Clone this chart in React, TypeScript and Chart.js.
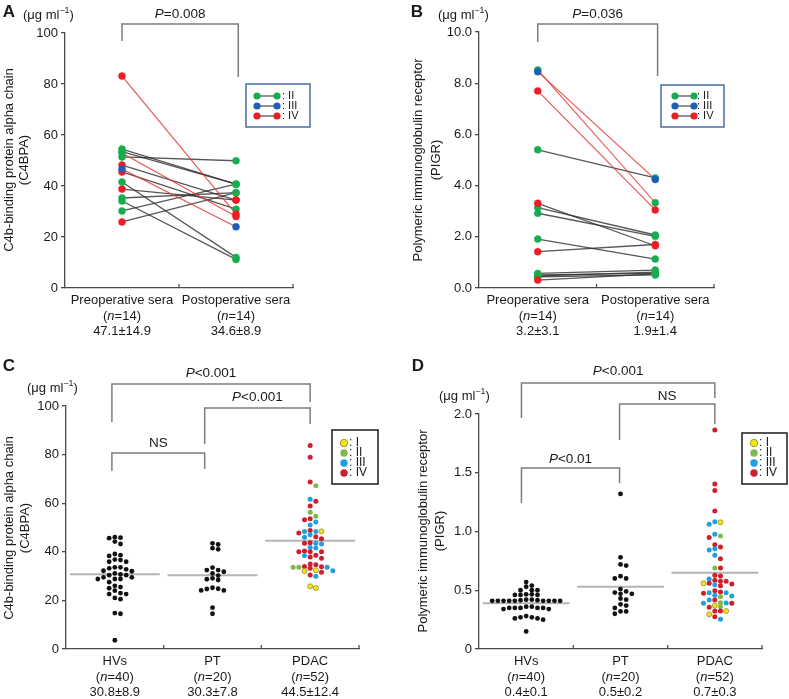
import React, { useEffect, useRef } from 'react';
import { Chart, registerables } from 'chart.js';
Chart.register(...registerables);

const FONT = '"Liberation Sans", Arial, Helvetica, sans-serif';
const TXT = '#1a1a1a';
const AXIS = '#4a4a4a';
const BRACKET = '#7d7d7d';

// ---------- Panel A data (C4BPA, pre/post surgery) ----------
const abCategories = ['Preoperative sera', 'Postoperative sera'];
const abN = [14, 14];
const aSummary = ['47.1±14.9', '34.6±8.9'];
const aPre = [83.1, 54.5, 53.5, 52.9, 51.4, 48.2, 46.7, 45.5, 41.6, 38.8, 35.3, 34.1, 30.2, 25.9];
const aPost = [29.0, 40.7, 40.7, 28.0, 49.9, 34.5, 24.0, 30.9, 12.0, 34.5, 37.4, 11.2, 40.7, 37.4];
const aPreStage = ['IV', 'II', 'II', 'II', 'II', 'IV', 'III', 'IV', 'II', 'IV', 'II', 'II', 'II', 'IV'];
const aPostStage = ['IV', 'II', 'II', 'IV', 'II', 'IV', 'III', 'II', 'II', 'IV', 'II', 'II', 'II', 'II'];
const aHighlight = [1, 0, 0, 1, 0, 0, 1, 0, 0, 0, 0, 0, 0, 0];

// ---------- Panel B data (PIGR, pre/post surgery) ----------
const bSummary = ['3.2±3.1', '1.9±1.4'];
const bPre = [8.52, 8.45, 7.7, 5.4, 3.31, 3.14, 2.92, 1.91, 1.42, 0.57, 0.51, 0.47, 0.44, 0.31];
const bPost = [3.33, 4.24, 3.05, 4.3, 1.65, 2.07, 2.02, 1.13, 1.7, 0.7, 0.57, 0.62, 0.51, 0.55];
const bPreStage = ['II', 'III', 'IV', 'II', 'IV', 'II', 'II', 'II', 'IV', 'II', 'II', 'II', 'II', 'IV'];
const bPostStage = ['II', 'III', 'IV', 'II', 'IV', 'II', 'II', 'II', 'IV', 'II', 'II', 'II', 'II', 'II'];
const bHighlight = [1, 1, 1, 0, 0, 0, 0, 0, 0, 0, 0, 0, 0, 0];

// ---------- Panel C data (C4BPA by group) ----------
const cdCategories = ['HVs', 'PT', 'PDAC'];
const cdN = [40, 20, 52];
const cSummary = ['30.8±8.9', '30.3±7.8', '44.5±12.4'];
const cMeans = [30.8, 30.3, 44.5];
const cHV = [46.0, 45.8, 45.6, 44.2, 43.2, 39.1, 38.6, 38.3, 36.8, 36.6, 35.9, 35.9, 33.6, 33.6, 33.2, 32.8, 32.2, 32.0, 31.1, 30.7,
  30.4, 30.4, 29.5, 29.5, 28.8, 28.8, 28.8, 27.5, 26.0, 25.5, 25.0, 24.0, 23.0, 22.6, 22.6, 21.0, 20.5, 14.8, 14.5, 3.6];
const cPT = [43.5, 43.0, 41.5, 41.0, 33.5, 32.5, 32.5, 31.8, 31.1, 30.2, 29.1, 28.7, 28.4, 25.2, 24.8, 24.7, 24.1, 24.1, 17.0, 14.5];
const cPDAC = [83.7, 78.9, 68.7, 67.2, 61.6, 60.8, 58.8, 56.3, 54.6, 53.6, 53.2, 52.3, 51.0, 48.8, 48.4, 48.4, 48.4, 47.7, 47.0, 46.2,
  46.0, 45.4, 43.7, 43.5, 43.5, 43.2, 41.8, 41.6, 40.3, 40.0, 40.0, 40.0, 38.6, 38.5, 37.9, 37.3, 35.0, 34.7, 33.9, 33.8,
  33.6, 33.6, 33.6, 33.2, 32.4, 32.2, 32.1, 31.6, 30.5, 29.9, 25.8, 25.1];
const cPDACStage = ['IV', 'IV', 'IV', 'II', 'III', 'IV', 'IV', 'II', 'II', 'IV', 'IV', 'III', 'III', 'IV', 'III', 'III', 'I', 'IV', 'III', 'IV',
  'III', 'IV', 'IV', 'III', 'IV', 'III', 'III', 'III', 'IV', 'IV', 'IV', 'IV', 'IV', 'III', 'IV', 'IV', 'IV', 'IV', 'IV', 'IV',
  'II', 'III', 'II', 'IV', 'I', 'III', 'I', 'IV', 'IV', 'III', 'I', 'I'];

// ---------- Panel D data (PIGR by group) ----------
const dSummary = ['0.4±0.1', '0.5±0.2', '0.7±0.3'];
const dMeans = [0.39, 0.53, 0.65];
const dHV = [0.57, 0.54, 0.53, 0.5, 0.5, 0.5, 0.465, 0.46, 0.46, 0.46, 0.465,
  0.42, 0.415, 0.41, 0.41, 0.41, 0.41, 0.41, 0.41, 0.41, 0.41, 0.41, 0.415, 0.42,
  0.35, 0.35, 0.36, 0.35, 0.34, 0.34, 0.35, 0.35, 0.36, 0.28, 0.27, 0.26, 0.25, 0.26, 0.27, 0.15];
const dPT = [1.32, 0.78, 0.72, 0.71, 0.62, 0.6, 0.6, 0.51, 0.49, 0.47, 0.47, 0.48, 0.43, 0.42, 0.38, 0.37, 0.35, 0.32, 0.3, 0.32];
const dPDAC = [1.864, 1.404, 1.35, 1.174, 1.083, 1.078, 1.061, 0.976, 0.962, 0.95, 0.888, 0.868, 0.854, 0.843, 0.797, 0.769,
  0.689, 0.689, 0.627, 0.621, 0.596, 0.585, 0.576, 0.576, 0.559, 0.559, 0.553, 0.547, 0.539, 0.496, 0.485, 0.479, 0.479,
  0.474, 0.457, 0.451, 0.445, 0.417, 0.417, 0.394, 0.391, 0.389, 0.389, 0.369, 0.36, 0.355, 0.323, 0.323, 0.323, 0.295, 0.275, 0.253];
const dPDACStage = ['IV', 'IV', 'IV', 'IV', 'III', 'I', 'III', 'III', 'II', 'IV', 'IV', 'IV', 'III', 'III', 'III', 'IV',
  'II', 'IV', 'IV', 'IV', 'III', 'IV', 'IV', 'IV', 'IV', 'I', 'IV', 'III', 'IV', 'IV', 'IV', 'III', 'III',
  'IV', 'III', 'III', 'II', 'IV', 'III', 'II', 'III', 'III', 'IV', 'I', 'II', 'IV', 'IV', 'IV', 'I', 'I', 'IV', 'III'];

// ---------- styles ----------
const STAGE_AB: Record<string, string> = { II: '#17ad4f', III: '#1d5fb4', IV: '#ec1d25' };
const STAGE_CD: Record<string, string> = { I: '#f3e41e', II: '#7cba4b', III: '#1f9fe0', IV: '#cf1f2d' };
const STAGE_CD_BORDER: Record<string, string> = { I: '#a39a2c', II: '#7cba4b', III: '#1f9fe0', IV: '#cf1f2d' };
const STAGE_ORDER: Record<string, number> = { I: 0, II: 1, IV: 2, III: 3 };

type Seg = { t: string; i?: boolean; sup?: boolean };

function fontStr(size: number, italic = false, bold = false) {
  return `${italic ? 'italic ' : ''}${bold ? 'bold ' : ''}${size}px ${FONT}`;
}

function drawRich(ctx: CanvasRenderingContext2D, segs: Seg[], x: number, y: number, size: number, align: string) {
  ctx.save();
  ctx.textBaseline = 'middle';
  ctx.textAlign = 'left';
  ctx.fillStyle = TXT;
  const widths = segs.map((s) => {
    ctx.font = fontStr(s.sup ? size * 0.68 : size, !!s.i);
    return ctx.measureText(s.t).width;
  });
  const total = widths.reduce((a, b) => a + b, 0);
  let cx = align === 'center' ? x - total / 2 : x;
  segs.forEach((s, k) => {
    ctx.font = fontStr(s.sup ? size * 0.68 : size, !!s.i);
    ctx.fillText(s.t, cx, s.sup ? y - size * 0.36 : y);
    cx += widths[k];
  });
  ctx.restore();
}

// column beeswarm: stack points into discrete columns around the category centre
function swarm(values: number[], center: number, colStep: number, minGap: number) {
  const idx = values.map((_, i) => i).sort((a, b) => values[b] - values[a]);
  const placed: { col: number; y: number }[] = [];
  const xs: number[] = new Array(values.length);
  for (const i of idx) {
    const v = values[i];
    for (let k = 0; k < 60; k++) {
      const col = k === 0 ? 0 : k % 2 === 1 ? (k + 1) / 2 : -k / 2;
      if (!placed.some((p) => p.col === col && Math.abs(p.y - v) < minGap)) {
        placed.push({ col, y: v });
        xs[i] = center + col * colStep;
        break;
      }
    }
  }
  return xs;
}

function pairedDatasets(pre: number[], post: number[], preStage: string[], postStage: string[], hl: number[]) {
  const ds: any[] = [];
  pre.forEach((v, i) => {
    ds.push({
      type: 'line',
      data: [{ x: 0, y: v }, { x: 1, y: post[i] }],
      borderColor: hl[i] ? 'rgba(232,60,55,0.9)' : 'rgba(45,45,45,0.8)',
      borderWidth: hl[i] ? 1.1 : 1.3,
      pointRadius: 0,
      order: hl[i] ? 1 : 2,
    });
  });
  const pts: any[] = [];
  pre.forEach((v, i) => pts.push({ x: 0, y: v, s: preStage[i] }));
  post.forEach((v, i) => pts.push({ x: 1, y: post[i], s: postStage[i] }));
  pts.sort((a, b) => STAGE_ORDER[a.s] - STAGE_ORDER[b.s]);
  ds.push({
    type: 'scatter',
    data: pts.map((p) => ({ x: p.x, y: p.y })),
    pointRadius: 3.5,
    pointBackgroundColor: pts.map((p) => STAGE_AB[p.s]),
    pointBorderColor: pts.map((p) => STAGE_AB[p.s]),
    pointBorderWidth: 0.5,
    order: 0,
  });
  return ds;
}

function groupDatasets(hv: number[], pt: number[], pdac: number[], stage: string[], means: number[], colStep: number, minGap: number) {
  const ds: any[] = [];
  means.forEach((m, i) => {
    ds.push({
      type: 'line',
      data: [{ x: i - 0.46, y: m }, { x: i + 0.46, y: m }],
      borderColor: '#b4b4b4',
      borderWidth: 2,
      pointRadius: 0,
      order: 2,
    });
  });
  const hx = swarm(hv, 0, colStep, minGap);
  const px = swarm(pt, 1, colStep, minGap);
  const dx = swarm(pdac, 2, colStep, minGap);
  ds.push({ type: 'scatter', data: hv.map((v, i) => ({ x: hx[i], y: v })), pointRadius: 2.4, pointBackgroundColor: '#111', pointBorderColor: '#111', pointBorderWidth: 0, order: 0 });
  ds.push({ type: 'scatter', data: pt.map((v, i) => ({ x: px[i], y: v })), pointRadius: 2.4, pointBackgroundColor: '#111', pointBorderColor: '#111', pointBorderWidth: 0, order: 0 });
  ds.push({
    type: 'scatter',
    data: pdac.map((v, i) => ({ x: dx[i], y: v })),
    pointRadius: 2.5,
    pointBackgroundColor: stage.map((s) => STAGE_CD[s]),
    pointBorderColor: stage.map((s) => STAGE_CD_BORDER[s]),
    pointBorderWidth: stage.map((s) => (s === 'I' ? 0.9 : 0)),
    order: 0,
  });
  return ds;
}

const P = (rest: string): Seg[] => [{ t: 'P', i: true }, { t: rest }];
const UNIT: Seg[] = [{ t: '(μg ml' }, { t: '−1', sup: true }, { t: ')' }];

function legendAB(ctx: CanvasRenderingContext2D, box: number[], dots: number[], rows: number[], textX: number) {
  ctx.save();
  ctx.strokeStyle = '#4a6ca6';
  ctx.lineWidth = 1.5;
  ctx.strokeRect(box[0], box[1], box[2], box[3]);
  const st = ['II', 'III', 'IV'];
  rows.forEach((y, k) => {
    ctx.strokeStyle = '#555';
    ctx.lineWidth = 1.3;
    ctx.beginPath();
    ctx.moveTo(dots[0], y);
    ctx.lineTo(dots[1], y);
    ctx.stroke();
    ctx.fillStyle = STAGE_AB[st[k]];
    dots.forEach((dx) => {
      ctx.beginPath();
      ctx.arc(dx, y, 3.6, 0, Math.PI * 2);
      ctx.fill();
    });
    drawRich(ctx, [{ t: ': ' + st[k] }], textX, y, 11, 'left');
  });
  ctx.restore();
}

function legendCD(ctx: CanvasRenderingContext2D, box: number[], cx: number, rows: number[], textX: number) {
  ctx.save();
  ctx.strokeStyle = '#2a2a2a';
  ctx.lineWidth = 1.6;
  ctx.strokeRect(box[0], box[1], box[2], box[3]);
  const st = ['I', 'II', 'III', 'IV'];
  rows.forEach((y, k) => {
    ctx.fillStyle = STAGE_CD[st[k]];
    ctx.beginPath();
    ctx.arc(cx, y, 3.7, 0, Math.PI * 2);
    ctx.fill();
    if (st[k] === 'I') {
      ctx.strokeStyle = STAGE_CD_BORDER.I;
      ctx.lineWidth = 1;
      ctx.stroke();
    }
    drawRich(ctx, [{ t: ': ' + st[k] }], textX, y, 12, 'left');
  });
  ctx.restore();
}

const PANELS: any[] = [
  {
    left: 0, top: 0, width: 395, height: 345,
    pad: { left: 0, right: 102, top: 33, bottom: 47 }, yWidth: 65, xHeight: 10,
    nCat: 2, yMax: 100, yStep: 20, yFmt: (v: number) => String(Math.round(v)),
    letter: 'A', letterPos: [9, 12], unitPos: [23, 15],
    title: ['C4b-binding protein alpha chain', '(C4BPA)'], titleX: [9, 24], titleY: 160,
    brackets: [{ x1: 0, x2: 1.02, top: 103.5, e1: 96.9, e2: 82.7, label: P('=0.008'), ly: 107.3 }],
    categories: abCategories, ns: abN, summaries: aSummary,
    legend: (ctx: any) => legendAB(ctx, [246, 84, 64, 43], [257, 277], [96, 106, 116], 282),
    datasets: pairedDatasets(aPre, aPost, aPreStage, aPostStage, aHighlight),
  },
  {
    left: 395, top: 0, width: 394, height: 345,
    pad: { left: 0, right: 75, top: 32, bottom: 47 }, yWidth: 84, xHeight: 10,
    nCat: 2, yMax: 10, yStep: 2, yFmt: (v: number) => v.toFixed(1),
    letter: 'B', letterPos: [22, 12], unitPos: [43, 15],
    title: ['Polymeric immunoglobulin receptor', '(PIGR)'], titleX: [23, 41], titleY: 160,
    brackets: [{ x1: 0, x2: 1.02, top: 10.31, e1: 9.61, e2: 8.28, label: P('=0.036'), ly: 10.68 }],
    categories: abCategories, ns: abN, summaries: bSummary,
    legend: (ctx: any) => legendAB(ctx, [266, 85, 63, 42], [280, 299], [96, 106, 116], 302),
    datasets: pairedDatasets(bPre, bPost, bPreStage, bPostStage, bHighlight),
  },
  {
    left: 0, top: 345, width: 395, height: 354,
    pad: { left: 0, right: 36, top: 61, bottom: 40 }, yWidth: 66, xHeight: 10,
    nCat: 3, yMax: 100, yStep: 20, yFmt: (v: number) => String(Math.round(v)),
    letter: 'C', letterPos: [9, 21], unitPos: [27, 43],
    title: ['C4b-binding protein alpha chain', '(C4BPA)'], titleX: [9, 25], titleY: 183,
    brackets: [
      { x1: -0.03, x2: 2, top: 109.1, e1: 93.4, e2: 101.6, label: P('<0.001'), ly: 113.3 },
      { x1: 0.92, x2: 2, top: 99.2, e1: 84.4, e2: 92.6, label: P('<0.001'), ly: 103.4 },
      { x1: -0.03, x2: 0.92, top: 80.7, e1: 73.3, e2: 74.1, label: [{ t: 'NS' }], ly: 84.8 },
    ],
    categories: cdCategories, ns: cdN, summaries: cSummary,
    legend: (ctx: any) => legendCD(ctx, [332, 85, 46, 54], 344, [98, 108, 118, 128], 349),
    datasets: groupDatasets(cHV, cPT, cPDAC, cPDACStage, cMeans, 0.058, 1.7),
  },
  {
    left: 395, top: 345, width: 394, height: 354,
    pad: { left: 0, right: 27, top: 69, bottom: 40 }, yWidth: 84, xHeight: 10,
    nCat: 3, yMax: 2, yStep: 0.5, yFmt: (v: number) => (v === 0 ? '0' : v.toFixed(1)),
    letter: 'D', letterPos: [23, 21], unitPos: [44, 51],
    title: ['Polymeric immunoglobulin receptor', '(PIGR)'], titleX: [28, 45], titleY: 186,
    brackets: [
      { x1: -0.05, x2: 2, top: 2.264, e1: 1.966, e2: 2.136, label: P('<0.001'), ly: 2.36 },
      { x1: 0.99, x2: 2, top: 2.085, e1: 1.779, e2: 1.915, label: [{ t: 'NS' }], ly: 2.15 },
      { x1: -0.05, x2: 0.99, top: 1.54, e1: 1.243, e2: 1.413, label: P('<0.01'), ly: 1.612 },
    ],
    categories: cdCategories, ns: cdN, summaries: dSummary,
    legend: (ctx: any) => legendCD(ctx, [347, 88, 45, 51], 359, [98, 108, 118, 128], 364),
    datasets: groupDatasets(dHV, dPT, dPDAC, dPDACStage, dMeans, 0.06, 0.034),
  },
];

function decor(s: any) {
  return {
    id: 'decor' + s.letter,
    afterDraw(chart: any) {
      const { ctx, chartArea } = chart;
      const xs = chart.scales.x;
      const ys = chart.scales.y;
      ctx.save();
      // boundary ticks on the x axis
      ctx.strokeStyle = AXIS;
      ctx.lineWidth = 1.2;
      for (let b = 0.5; b <= s.nCat - 0.5; b += 1) {
        const px = xs.getPixelForValue(b);
        ctx.beginPath();
        ctx.moveTo(px, chartArea.bottom);
        ctx.lineTo(px, chartArea.bottom - 4);
        ctx.stroke();
      }
      // brackets
      ctx.strokeStyle = BRACKET;
      ctx.lineWidth = 1.5;
      s.brackets.forEach((br: any) => {
        const X1 = xs.getPixelForValue(br.x1);
        const X2 = xs.getPixelForValue(br.x2);
        ctx.beginPath();
        ctx.moveTo(X1, ys.getPixelForValue(br.e1));
        ctx.lineTo(X1, ys.getPixelForValue(br.top));
        ctx.lineTo(X2, ys.getPixelForValue(br.top));
        ctx.lineTo(X2, ys.getPixelForValue(br.e2));
        ctx.stroke();
        drawRich(ctx, br.label, (X1 + X2) / 2, ys.getPixelForValue(br.ly), 13.5, 'center');
      });
      // panel letter
      ctx.fillStyle = TXT;
      ctx.font = fontStr(17, false, true);
      ctx.textAlign = 'center';
      ctx.textBaseline = 'middle';
      ctx.fillText(s.letter, s.letterPos[0], s.letterPos[1]);
      // unit
      drawRich(ctx, UNIT, s.unitPos[0], s.unitPos[1], 13, 'left');
      // y title
      s.title.forEach((t: string, k: number) => {
        ctx.save();
        ctx.translate(s.titleX[k], s.titleY);
        ctx.rotate(-Math.PI / 2);
        ctx.fillStyle = TXT;
        ctx.font = fontStr(13);
        ctx.textAlign = 'center';
        ctx.textBaseline = 'middle';
        ctx.fillText(t, 0, 0);
        ctx.restore();
      });
      // category labels
      s.categories.forEach((c: string, i: number) => {
        const px = xs.getPixelForValue(i);
        drawRich(ctx, [{ t: c }], px, chartArea.bottom + 12.5, 13, 'center');
        drawRich(ctx, [{ t: '(' }, { t: 'n', i: true }, { t: '=' + s.ns[i] + ')' }], px, chartArea.bottom + 28, 13, 'center');
        drawRich(ctx, [{ t: s.summaries[i] }], px, chartArea.bottom + 43.5, 13, 'center');
      });
      s.legend(ctx);
      ctx.restore();
    },
  };
}

function buildConfig(s: any): any {
  return {
    type: 'scatter',
    data: { datasets: s.datasets },
    options: {
      responsive: false,
      animation: false,
      events: [],
      layout: { padding: s.pad },
      plugins: { legend: { display: false }, tooltip: { enabled: false } },
      scales: {
        x: {
          type: 'linear', min: -0.5, max: s.nCat - 0.5,
          ticks: { display: false },
          grid: { display: false },
          border: { display: true, color: AXIS, width: 1.3 },
          afterFit: (sc: any) => { sc.height = s.xHeight; },
        },
        y: {
          type: 'linear', min: 0, max: s.yMax,
          ticks: { stepSize: s.yStep, callback: (v: any) => s.yFmt(Number(v)), font: { family: FONT, size: 13 }, color: TXT, padding: 3 },
          grid: { drawOnChartArea: false, drawTicks: true, tickLength: 4, color: AXIS, lineWidth: 1.3 },
          border: { display: true, color: AXIS, width: 1.3 },
          afterFit: (sc: any) => { sc.width = s.yWidth; },
        },
      },
    },
    plugins: [decor(s)],
  };
}

function Panel({ spec }: { spec: any }) {
  const ref = useRef<HTMLCanvasElement>(null);
  useEffect(() => {
    const chart = new Chart(ref.current as HTMLCanvasElement, buildConfig(spec));
    return () => chart.destroy();
  }, [spec]);
  return (
    <canvas
      ref={ref}
      width={spec.width}
      height={spec.height}
      style={{ position: 'absolute', left: spec.left, top: spec.top, width: spec.width, height: spec.height }}
    />
  );
}

export default function App() {
  return (
    <div style={{ position: 'absolute', left: 0, top: 0, width: 789, height: 699, background: '#fff', overflow: 'hidden' }}>
      {PANELS.map((p, i) => (
        <Panel key={i} spec={p} />
      ))}
    </div>
  );
}
